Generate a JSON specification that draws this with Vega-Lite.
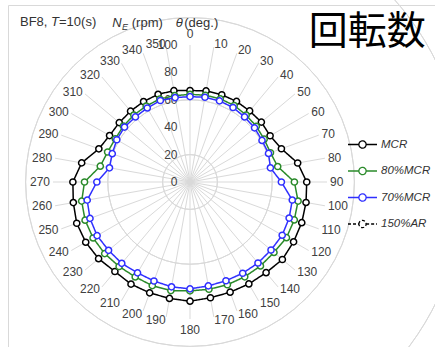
{
  "$schema": "https://vega.github.io/schema/vega-lite/v6.json",
  "width": 427,
  "height": 342,
  "autosize": {"type": "none"},
  "padding": {"left": 8, "top": 5, "right": 0, "bottom": 0},
  "background": "white",
  "config": {
    "view": {"stroke": "#d9d9d9", "strokeWidth": 1},
    "font": "Liberation Sans",
    "text": {"font": "Liberation Sans", "fontSize": 12, "fill": "#404040"}
  },
  "datasets": {
    "speeds": [
      {"a": 0, "MCR": 66.8, "80%MCR": 64.0, "70%MCR": 62.3},
      {"a": 10, "MCR": 67.5, "80%MCR": 64.3, "70%MCR": 62.8},
      {"a": 20, "MCR": 67.8, "80%MCR": 64.6, "70%MCR": 63.0},
      {"a": 30, "MCR": 67.9, "80%MCR": 64.5, "70%MCR": 62.8},
      {"a": 40, "MCR": 67.7, "80%MCR": 63.8, "70%MCR": 62.0},
      {"a": 50, "MCR": 68.0, "80%MCR": 63.2, "70%MCR": 61.5},
      {"a": 60, "MCR": 67.5, "80%MCR": 62.5, "70%MCR": 60.7},
      {"a": 70, "MCR": 71.0, "80%MCR": 62.5, "70%MCR": 61.0},
      {"a": 80, "MCR": 79.8, "80%MCR": 65.0, "70%MCR": 59.6},
      {"a": 90, "MCR": 85.2, "80%MCR": 76.2, "70%MCR": 66.7},
      {"a": 100, "MCR": 86.0, "80%MCR": 80.1, "70%MCR": 75.8},
      {"a": 110, "MCR": 86.8, "80%MCR": 81.0, "70%MCR": 77.0},
      {"a": 120, "MCR": 87.3, "80%MCR": 81.3, "70%MCR": 77.7},
      {"a": 130, "MCR": 88.0, "80%MCR": 80.0, "70%MCR": 77.2},
      {"a": 140, "MCR": 86.4, "80%MCR": 80.0, "70%MCR": 77.2},
      {"a": 150, "MCR": 85.9, "80%MCR": 79.9, "70%MCR": 76.9},
      {"a": 160, "MCR": 85.6, "80%MCR": 79.8, "70%MCR": 76.7},
      {"a": 170, "MCR": 85.8, "80%MCR": 79.5, "70%MCR": 77.0},
      {"a": 180, "MCR": 87.0, "80%MCR": 79.5, "70%MCR": 78.0},
      {"a": 190, "MCR": 86.3, "80%MCR": 80.5, "70%MCR": 77.7},
      {"a": 200, "MCR": 86.1, "80%MCR": 80.5, "70%MCR": 76.9},
      {"a": 210, "MCR": 86.1, "80%MCR": 80.0, "70%MCR": 76.6},
      {"a": 220, "MCR": 85.3, "80%MCR": 80.5, "70%MCR": 77.5},
      {"a": 230, "MCR": 87.1, "80%MCR": 81.3, "70%MCR": 77.6},
      {"a": 240, "MCR": 87.9, "80%MCR": 81.7, "70%MCR": 78.3},
      {"a": 250, "MCR": 88.0, "80%MCR": 81.5, "70%MCR": 77.7},
      {"a": 260, "MCR": 86.5, "80%MCR": 80.3, "70%MCR": 76.2},
      {"a": 270, "MCR": 85.5, "80%MCR": 77.0, "70%MCR": 68.0},
      {"a": 280, "MCR": 80.3, "80%MCR": 66.5, "70%MCR": 59.7},
      {"a": 290, "MCR": 70.8, "80%MCR": 64.0, "70%MCR": 60.4},
      {"a": 300, "MCR": 67.8, "80%MCR": 63.0, "70%MCR": 61.7},
      {"a": 310, "MCR": 67.4, "80%MCR": 63.5, "70%MCR": 62.4},
      {"a": 320, "MCR": 67.5, "80%MCR": 63.8, "70%MCR": 62.0},
      {"a": 330, "MCR": 67.8, "80%MCR": 64.0, "70%MCR": 62.4},
      {"a": 340, "MCR": 68.1, "80%MCR": 64.5, "70%MCR": 63.3},
      {"a": 350, "MCR": 67.7, "80%MCR": 64.0, "70%MCR": 62.6}
    ],
    "rings": [{"r": 0}, {"r": 20}, {"r": 40}, {"r": 60}, {"r": 80}, {"r": 100}]
  },
  "layer": [
    {
      "data": {"name": "rings"},
      "mark": {"type": "arc", "filled": false, "stroke": "#d9d9d9", "strokeWidth": 1, "theta": 0, "theta2": 6.2832},
      "encoding": {
        "x": {"datum": 0, "type": "quantitative", "scale": {"domain": [-132.85, 178.83], "nice": false, "zero": false}, "axis": null},
        "y": {"datum": 0, "type": "quantitative", "scale": {"domain": [-120.44, 129.2], "nice": false, "zero": false}, "axis": null},
        "radius": {"field": "r", "type": "quantitative", "scale": {"type": "linear", "domain": [0, 100], "range": [0, 137], "zero": true}}
      }
    },
    {
      "data": {"name": "speeds"},
      "transform": [
        {"calculate": "100*sin(datum.a*PI/180)", "as": "sx"},
        {"calculate": "100*cos(datum.a*PI/180)", "as": "sy"}
      ],
      "mark": {"type": "rule", "stroke": "#d9d9d9", "strokeWidth": 1},
      "encoding": {
        "x": {"field": "sx", "type": "quantitative", "scale": {"domain": [-132.85, 178.83], "nice": false, "zero": false}, "axis": null},
        "y": {"field": "sy", "type": "quantitative", "scale": {"domain": [-120.44, 129.2], "nice": false, "zero": false}, "axis": null},
        "x2": {"datum": 0},
        "y2": {"datum": 0}
      }
    },
    {
      "data": {"name": "rings"},
      "mark": {"type": "text", "align": "right", "baseline": "middle"},
      "encoding": {
        "x": {"datum": -9.1, "type": "quantitative", "scale": {"domain": [-132.85, 178.83], "nice": false, "zero": false}, "axis": null},
        "y": {"field": "r", "type": "quantitative", "scale": {"domain": [-120.44, 129.2], "nice": false, "zero": false}, "axis": null},
        "text": {"field": "r", "type": "quantitative"}
      }
    },
    {
      "data": {"name": "speeds"},
      "transform": [
        {"filter": "datum.a > 0 && datum.a < 180"},
        {"calculate": "102.2*sin(datum.a*PI/180)", "as": "lx"},
        {"calculate": "102.2*cos(datum.a*PI/180)", "as": "ly"}
      ],
      "mark": {"type": "text", "align": "left", "baseline": "middle"},
      "encoding": {
        "x": {"field": "lx", "type": "quantitative", "scale": {"domain": [-132.85, 178.83], "nice": false, "zero": false}, "axis": null},
        "y": {"field": "ly", "type": "quantitative", "scale": {"domain": [-120.44, 129.2], "nice": false, "zero": false}, "axis": null},
        "text": {"field": "a", "type": "quantitative"}
      }
    },
    {
      "data": {"name": "speeds"},
      "transform": [
        {"filter": "datum.a > 180"},
        {"calculate": "102.2*sin(datum.a*PI/180)", "as": "lx"},
        {"calculate": "102.2*cos(datum.a*PI/180)", "as": "ly"}
      ],
      "mark": {"type": "text", "align": "right", "baseline": "middle"},
      "encoding": {
        "x": {"field": "lx", "type": "quantitative", "scale": {"domain": [-132.85, 178.83], "nice": false, "zero": false}, "axis": null},
        "y": {"field": "ly", "type": "quantitative", "scale": {"domain": [-120.44, 129.2], "nice": false, "zero": false}, "axis": null},
        "text": {"field": "a", "type": "quantitative"}
      }
    },
    {
      "data": {"name": "speeds"},
      "transform": [
        {"filter": "datum.a == 0 || datum.a == 180"},
        {"calculate": "108.3*sin(datum.a*PI/180)", "as": "lx"},
        {"calculate": "108.3*cos(datum.a*PI/180)", "as": "ly"}
      ],
      "mark": {"type": "text", "align": "center", "baseline": "middle"},
      "encoding": {
        "x": {"field": "lx", "type": "quantitative", "scale": {"domain": [-132.85, 178.83], "nice": false, "zero": false}, "axis": null},
        "y": {"field": "ly", "type": "quantitative", "scale": {"domain": [-120.44, 129.2], "nice": false, "zero": false}, "axis": null},
        "text": {"field": "a", "type": "quantitative"}
      }
    },
    {
      "data": {"name": "speeds"},
      "transform": [
        {"fold": ["MCR", "80%MCR", "70%MCR"], "as": ["series", "rpm"]},
        {"calculate": "datum.rpm*sin(datum.a*PI/180)", "as": "px"},
        {"calculate": "datum.rpm*cos(datum.a*PI/180)", "as": "py"}
      ],
      "mark": {"type": "line", "interpolate": "linear-closed", "strokeWidth": 1.5},
      "encoding": {
        "x": {"field": "px", "type": "quantitative", "scale": {"domain": [-132.85, 178.83], "nice": false, "zero": false}, "axis": null},
        "y": {"field": "py", "type": "quantitative", "scale": {"domain": [-120.44, 129.2], "nice": false, "zero": false}, "axis": null},
        "order": {"field": "a", "type": "quantitative"},
        "color": {
          "field": "series", "type": "nominal",
          "scale": {"domain": ["MCR", "80%MCR", "70%MCR", "150%AR"], "range": ["#000000", "#2a8a2a", "#2f2fff", "#000000"]},
          "legend": {
            "title": null, "orient": "none", "legendX": 339, "legendY": 124, "padding": 0,
            "symbolType": "M-1,0H-0.25M0.25,0H1M-0.25,0A0.25,0.25,0,1,1,0.25,0A0.25,0.25,0,1,1,-0.25,0Z",
            "symbolSize": 841, "symbolStrokeWidth": 1.3, "symbolFillColor": "white",
            "labelFont": "Liberation Sans", "labelFontStyle": "italic", "labelFontSize": 11.5, "labelColor": "#333333",
            "labelOffset": 3, "rowPadding": 4.5
          }
        },
        "strokeDash": {
          "field": "series", "type": "nominal",
          "scale": {"domain": ["MCR", "80%MCR", "70%MCR", "150%AR"], "range": [[1, 0], [1, 0], [1, 0], [3, 2]]},
          "legend": {
            "title": null, "orient": "none", "legendX": 339, "legendY": 124, "padding": 0,
            "symbolType": "M-1,0H-0.25M0.25,0H1M-0.25,0A0.25,0.25,0,1,1,0.25,0A0.25,0.25,0,1,1,-0.25,0Z",
            "symbolSize": 841, "symbolStrokeWidth": 1.3, "symbolFillColor": "white",
            "labelFont": "Liberation Sans", "labelFontStyle": "italic", "labelFontSize": 11.5, "labelColor": "#333333",
            "labelOffset": 3, "rowPadding": 4.5
          }
        }
      }
    },
    {
      "data": {"name": "speeds"},
      "transform": [
        {"fold": ["MCR", "80%MCR", "70%MCR"], "as": ["series", "rpm"]},
        {"calculate": "datum.rpm*sin(datum.a*PI/180)", "as": "px"},
        {"calculate": "datum.rpm*cos(datum.a*PI/180)", "as": "py"}
      ],
      "mark": {"type": "point", "filled": false, "fill": "white", "fillOpacity": 1, "opacity": 1, "size": 38, "strokeWidth": 1.5},
      "encoding": {
        "x": {"field": "px", "type": "quantitative", "scale": {"domain": [-132.85, 178.83], "nice": false, "zero": false}, "axis": null},
        "y": {"field": "py", "type": "quantitative", "scale": {"domain": [-120.44, 129.2], "nice": false, "zero": false}, "axis": null},
        "color": {"field": "series", "type": "nominal"}
      }
    },
    {
      "data": {"values": [{}]},
      "mark": {"type": "text", "text": "BF8, ", "align": "left", "baseline": "alphabetic", "fontSize": 13, "fill": "#333333"},
      "encoding": {
        "x": {"datum": -124.1, "type": "quantitative"},
        "y": {"datum": 113.9, "type": "quantitative"}
      }
    },
    {
      "data": {"values": [{}]},
      "mark": {"type": "text", "text": "T", "align": "left", "baseline": "alphabetic", "fontSize": 13, "fontStyle": "italic", "fill": "#333333"},
      "encoding": {
        "x": {"datum": -101.5, "type": "quantitative"},
        "y": {"datum": 113.9, "type": "quantitative"}
      }
    },
    {
      "data": {"values": [{}]},
      "mark": {"type": "text", "text": "=10(s)", "align": "left", "baseline": "alphabetic", "fontSize": 13, "fill": "#333333"},
      "encoding": {
        "x": {"datum": -95.6, "type": "quantitative"},
        "y": {"datum": 113.9, "type": "quantitative"}
      }
    },
    {
      "data": {"values": [{}]},
      "mark": {"type": "text", "text": "N", "align": "left", "baseline": "alphabetic", "fontSize": 13, "fontStyle": "italic", "fill": "#333333"},
      "encoding": {
        "x": {"datum": -56.7, "type": "quantitative"},
        "y": {"datum": 113.1, "type": "quantitative"}
      }
    },
    {
      "data": {"values": [{}]},
      "mark": {"type": "text", "text": "E", "align": "left", "baseline": "alphabetic", "fontSize": 9, "fontStyle": "italic", "fill": "#333333"},
      "encoding": {
        "x": {"datum": -49.6, "type": "quantitative"},
        "y": {"datum": 110.9, "type": "quantitative"}
      }
    },
    {
      "data": {"values": [{}]},
      "mark": {"type": "text", "text": "(rpm)", "align": "left", "baseline": "alphabetic", "fontSize": 13, "fill": "#333333"},
      "encoding": {
        "x": {"datum": -42.5, "type": "quantitative"},
        "y": {"datum": 113.1, "type": "quantitative"}
      }
    },
    {
      "data": {"values": [{}]},
      "mark": {"type": "text", "text": "θ", "align": "left", "baseline": "alphabetic", "fontSize": 13, "fontStyle": "italic", "fill": "#333333"},
      "encoding": {
        "x": {"datum": -10.4, "type": "quantitative"},
        "y": {"datum": 113.1, "type": "quantitative"}
      }
    },
    {
      "data": {"values": [{}]},
      "mark": {"type": "text", "text": "(deg.)", "align": "left", "baseline": "alphabetic", "fontSize": 13, "fill": "#333333"},
      "encoding": {
        "x": {"datum": -4.2, "type": "quantitative"},
        "y": {"datum": 113.1, "type": "quantitative"}
      }
    },
    {
      "data": {"values": [{}]},
      "mark": {"type": "text", "text": "回転数", "align": "left", "baseline": "alphabetic", "font": "Noto Sans CJK JP", "fontSize": 39, "fill": "#000000"},
      "encoding": {
        "x": {"datum": 86.6, "type": "quantitative"},
        "y": {"datum": 100.9, "type": "quantitative"}
      }
    }
  ]
}
